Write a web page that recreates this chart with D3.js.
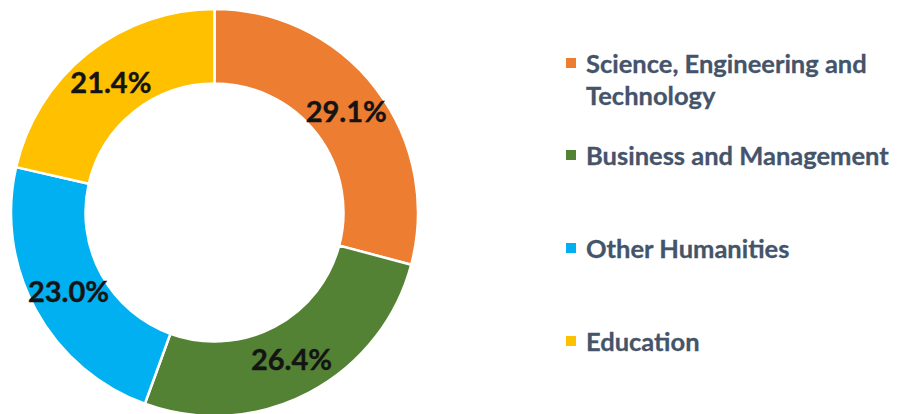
<!DOCTYPE html>
<html>
<head>
<meta charset="utf-8">
<script src="https://cdn.jsdelivr.net/npm/d3@7"></script>
<style>
  html, body { margin: 0; padding: 0; background: #fff; }
  svg { display: block; }
</style>
</head>
<body>
<svg id="chart" width="900" height="414"></svg>
<script>
const categories = ["Science, Engineering and Technology", "Business and Management", "Other Humanities", "Education"];
const legendLines = [["Science, Engineering and", "Technology"], ["Business and Management"], ["Other Humanities"], ["Education"]];
const values = [29.1, 26.4, 23.0, 21.4];
const colors = ["#ED7D31", "#548235", "#00B0F0", "#FFC000"];

const svg = d3.select("#chart");
const cx = 214.5, cy = 212.5, outerR = 203.5, innerR = 129;

const pie = d3.pie().sort(null).value(d => d)(values);
const arc = d3.arc().innerRadius(innerR).outerRadius(outerR);

const g = svg.append("g").attr("transform", `translate(${cx},${cy})`);
g.selectAll("path.slice").data(pie).enter().append("path")
  .attr("class", "slice")
  .attr("d", arc)
  .attr("fill", (d, i) => colors[i])
  .attr("stroke", "#fff")
  .attr("stroke-width", 2.5);

g.selectAll("text.lbl").data(pie).enter().append("text")
  .attr("class", "lbl")
  .attr("transform", d => `translate(${arc.centroid(d)})`)
  .attr("text-anchor", "middle")
  .attr("dy", "0.36em")
  .attr("font-family", "Lato, 'Open Sans', sans-serif")
  .attr("font-weight", 700)
  .attr("font-size", 29)
  .attr("fill", "#141414")
  .attr("stroke", "#141414")
  .attr("stroke-width", 0.4)
  .text(d => d.data.toFixed(1) + "%");

// Legend
const legendY = [73, 165, 258, 351];
const lg = svg.append("g");
legendLines.forEach((lines, i) => {
  lg.append("rect")
    .attr("x", 566).attr("y", legendY[i] - 15)
    .attr("width", 10).attr("height", 10)
    .attr("fill", colors[i]);
  const t = lg.append("text")
    .attr("x", 586).attr("y", legendY[i])
    .attr("font-family", "Lato, 'Open Sans', sans-serif")
    .attr("font-weight", 700)
    .attr("font-size", 25.5)
    .attr("fill", "#44546A")
    .attr("stroke", "#44546A")
    .attr("stroke-width", 0.3);
  lines.forEach((ln, j) => {
    t.append("tspan").attr("x", 586).attr("dy", j === 0 ? 0 : 32).text(ln);
  });
});
</script>
</body>
</html>
